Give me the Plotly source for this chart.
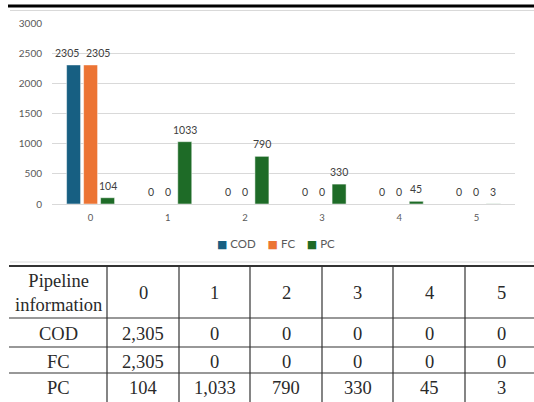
import plotly.graph_objects as go

# ---------------- data ----------------
categories = ["0", "1", "2", "3", "4", "5"]
cod = [2305, 0, 0, 0, 0, 0]
fc = [2305, 0, 0, 0, 0, 0]
pc = [104, 1033, 790, 330, 45, 3]
series_names = ["COD", "FC", "PC"]
series_values = [cod, fc, pc]
series_colors = ["#175f82", "#ec7434", "#1e6b27"]
y_ticks = [0, 500, 1000, 1500, 2000, 2500, 3000]
table_corner = "Pipeline<br>information"

# ---------------- geometry / style ----------------
W, H = 534, 402
L, R, T, B = 52, 19, 23, 198
PW, PH = W - L - R, H - T - B
BAR_STEP = 17            # px between grouped bar centres
LABEL_NUDGE = {(0, 0): -6.5, (1, 0): 7.5}   # (series, category) -> px shift of data label


def px(x):
    return (x - L) / PW


def py(y):
    return (H - B - y) / PH


fig = go.Figure()

for name, vals, col in zip(series_names, series_values, series_colors):
    fig.add_trace(go.Bar(
        x=categories, y=vals, name=name,
        marker=dict(color=col, line=dict(color="white", width=0.5)),
        showlegend=False,
    ))

annotations = []
# data labels
for si, vals in enumerate(series_values):
    for ci, v in enumerate(vals):
        annotations.append(dict(
            text=str(v), xref="x", yref="y", x=categories[ci], y=v,
            xshift=(si - 1) * BAR_STEP + LABEL_NUDGE.get((si, ci), 0),
            yanchor="bottom", yshift=4, showarrow=False,
            font=dict(family="Lato", size=10.5, color="#404040"),
        ))

# legend (compact, Excel-like)
gap = "&nbsp;" * 4
legend_txt = gap.join(
    f"<span style='color:{c};font-size:11px;font-family:DejaVu Sans'>■</span>&nbsp;{n}"
    for n, c in zip(series_names, series_colors)
)
annotations.append(dict(
    text=legend_txt, xref="paper", yref="paper", x=px(276), y=py(244),
    xanchor="center", yanchor="middle", showarrow=False,
    font=dict(family="Lato", size=11.5, color="#595959"),
))

# ---------------- table ----------------
col_edges = [9, 107, 179, 250, 322, 393, 465, 537]
row_edges = [266, 318, 347, 373, 401]
rows = [[table_corner] + categories]
for name, vals in zip(series_names, series_values):
    rows.append([name] + [f"{v:,}" for v in vals])

shapes = []
# decorative rules
shapes.append(dict(type="line", xref="paper", yref="paper", x0=px(8), x1=px(534),
                   y0=py(6), y1=py(6), line=dict(color="#000000", width=3)))
shapes.append(dict(type="line", xref="paper", yref="paper", x0=px(10), x1=px(534),
                   y0=py(10.5), y1=py(10.5), line=dict(color="#d9d9d9", width=1)))
shapes.append(dict(type="line", xref="paper", yref="paper", x0=px(10), x1=px(534),
                   y0=py(262), y1=py(262), line=dict(color="#d9d9d9", width=1)))
# table rules
shapes.append(dict(type="line", xref="paper", yref="paper", x0=px(col_edges[0]), x1=px(534),
                   y0=py(row_edges[0]), y1=py(row_edges[0]), line=dict(color="#333333", width=2)))
for ry in row_edges[1:-1]:
    shapes.append(dict(type="line", xref="paper", yref="paper", x0=px(col_edges[0]), x1=px(534),
                       y0=py(ry), y1=py(ry), line=dict(color="#333333", width=1.2)))
for cx in col_edges[1:-1]:
    shapes.append(dict(type="line", xref="paper", yref="paper", x0=px(cx), x1=px(cx),
                       y0=py(row_edges[0]), y1=py(402), line=dict(color="#333333", width=1.2)))

for ri, row in enumerate(rows):
    yc = (row_edges[ri] + row_edges[ri + 1]) / 2 + (1.5 if ri > 0 else 1)
    for ci, txt in enumerate(row):
        xc = (col_edges[ci] + col_edges[ci + 1]) / 2
        annotations.append(dict(
            text=txt, xref="paper", yref="paper", x=px(xc), y=py(yc),
            xanchor="center", yanchor="middle", showarrow=False,
            font=dict(family="Liberation Serif", size=18.5, color="#2a2a2a"),
        ))

fig.update_layout(
    width=W, height=H,
    margin=dict(l=L, r=R, t=T, b=B, pad=0),
    paper_bgcolor="white", plot_bgcolor="white",
    barmode="group", bargap=0.339, bargroupgap=0.176,
    font=dict(family="Lato", color="#595959"),
    showlegend=False,
    xaxis=dict(type="category", showgrid=False, showline=False, zeroline=False,
               ticks="", tickfont=dict(size=9.5, color="#595959"), ticklabelstandoff=6),
    yaxis=dict(range=[0, 3000], tickvals=y_ticks, showgrid=True, gridcolor="#d9d9d9",
               gridwidth=1, zeroline=True, zerolinecolor="#d9d9d9", zerolinewidth=1,
               showline=False, ticks="", tickfont=dict(size=10, color="#595959"),
               ticklabelstandoff=9),
    shapes=shapes,
    annotations=annotations,
)

fig.write_html("out.html")
